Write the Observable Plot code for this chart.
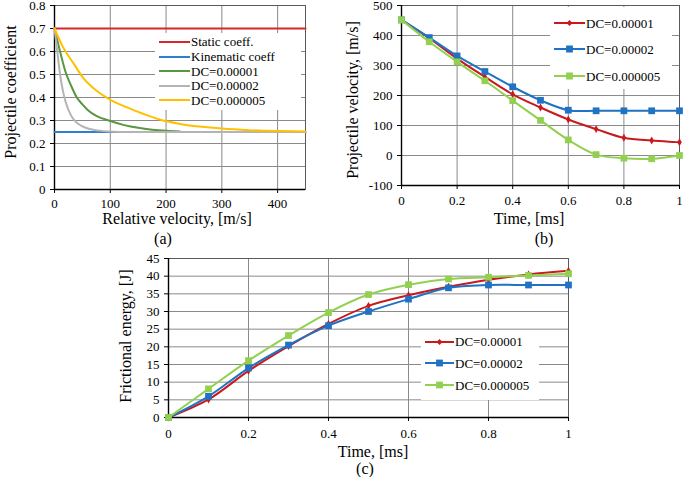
<!DOCTYPE html>
<html><head><meta charset="utf-8">
<script src="https://cdn.jsdelivr.net/npm/d3@7"></script>
<script src="https://cdn.jsdelivr.net/npm/@observablehq/plot@0.6"></script>
<style>
body{margin:0;background:#fff;}
#fig{position:relative;width:685px;height:477px;font-family:'Liberation Serif','DejaVu Serif',Tinos,'Times New Roman',serif;color:#000;overflow:hidden;background:#fff}
#fig svg text{font-family:'Liberation Serif','DejaVu Serif',Tinos,'Times New Roman',serif}
.p{position:absolute}
.t{position:absolute;font-size:16px;white-space:nowrap;transform:translate(-50%,-50%);line-height:1}
.ty{position:absolute;font-size:16px;white-space:nowrap;transform:translate(-50%,-50%) rotate(-90deg);line-height:1}
.leg{position:absolute;background:#fff}
.li{position:absolute;white-space:nowrap;display:flex;align-items:center;font-size:13px;height:16px;line-height:1}
.li svg{display:block}
</style>
</head><body>
<div id="fig"></div>
<script>
// ---------- Data: panel (a) ----------
const velRange = [0, 450];
const staticCoeff = 0.7;
const kinematicCoeff = 0.25;
const velDC1a = [0, 10, 20, 30, 40, 50, 60, 75, 100, 125, 150, 175, 200, 225];
const coefDC1a = [0.70, 0.60, 0.51, 0.45, 0.40, 0.37, 0.345, 0.32, 0.298, 0.28, 0.268, 0.26, 0.255, 0.252];
const velDC2a = [0, 5, 10, 15, 20, 30, 40, 50, 60, 80, 100, 120, 450];
const coefDC2a = [0.70, 0.60, 0.50, 0.43, 0.38, 0.32, 0.29, 0.275, 0.265, 0.256, 0.252, 0.25, 0.25];
const velDC05a = [0, 15, 35, 50, 75, 100, 130, 160, 190, 225, 300, 350, 400, 450];
const coefDC05a = [0.70, 0.62, 0.545, 0.49, 0.43, 0.39, 0.357, 0.328, 0.303, 0.285, 0.265, 0.258, 0.254, 0.252];
const ticksA_x = [0, 100, 200, 300, 400];
const ticksA_y = [0, 0.1, 0.2, 0.3, 0.4, 0.5, 0.6, 0.7, 0.8];

// ---------- Data: panels (b) and (c) ----------
const timeMs = [0, 0.1, 0.2, 0.3, 0.4, 0.5, 0.6, 0.7, 0.8, 0.9, 1];
const velDC1 = [452, 391, 323, 262, 204, 160, 120, 88, 59, 50, 44];
const velDC2 = [452, 393, 332, 280, 229, 184, 151, 149, 149, 149, 149];
const velDC05 = [452, 379, 312, 249, 183, 117, 52, 3, -9, -11, 0];
const enDC1 = [0, 5.1, 13.2, 20.2, 26.5, 31.6, 34.6, 37, 39, 40.5, 41.5];
const enDC2 = [0, 6, 14, 20.5, 26, 30, 33.5, 36.7, 37.5, 37.5, 37.5];
const enDC05 = [0, 8.1, 16.1, 23.2, 29.7, 34.8, 37.6, 39.2, 39.7, 40.2, 40.7];
const ticksT = [0, 0.2, 0.4, 0.6, 0.8, 1];
const ticksB_y = [-100, 0, 100, 200, 300, 400, 500];
const ticksC_y = [0, 5, 10, 15, 20, 25, 30, 35, 40, 45];

const seriesNames = ["DC=0.00001", "DC=0.00002", "DC=0.000005"];
const colA = {stat: "#d9262b", kin: "#2f7fd0", dc1: "#5b9640", dc2: "#b4b4b4", dc05: "#ffc000"};
const colB = ["#c8191e", "#1f72c4", "#92d050"];
const symB = ["diamond", "square", "square"];

const FONT = "'Liberation Serif','DejaVu Serif',Tinos,'Times New Roman',serif";
const fig = document.getElementById("fig");
const zip = (xs, ys) => xs.map((x, i) => ({x, y: ys[i]}));

function panel(o) {
  const plot = Plot.plot({
    width: o.width, height: o.height,
    marginLeft: o.ml, marginRight: o.mr, marginTop: o.mt, marginBottom: o.mb,
    style: {fontFamily: FONT, fontSize: "13px", background: "transparent", color: "#000", overflow: "visible"},
    x: {domain: o.xDomain},
    y: {domain: o.yDomain},
    marks: [
      Plot.gridX(o.xTicks, {stroke: "#8a8a8a", strokeOpacity: 1}),
      Plot.gridY(o.yTicks, {stroke: "#8a8a8a", strokeOpacity: 1}),
      Plot.frame({stroke: "#5a5a5a"}),
      Plot.axisX(o.xTicks, {tickSize: 4, tickPadding: o.xPad, tickFormat: o.xFmt, label: null, stroke: "#000"}),
      Plot.axisY(o.yTicks, {tickSize: 4, tickPadding: 5, tickFormat: o.yFmt, label: null, stroke: "#000"}),
      Plot.ruleX([o.xDomain[0]], {stroke: "#000", strokeWidth: 1.4}),
      Plot.ruleY([o.yDomain[0]], {stroke: "#000", strokeWidth: 1.4}),
      ...o.marks
    ]
  });
  plot.classList.add("p");
  plot.style.left = o.left + "px";
  plot.style.top = o.top + "px";
  fig.appendChild(plot);
}

// ---------- Panel (a) ----------
const fmtA = d => d === 0 ? "0" : d.toFixed(1);
panel({
  left: 0, top: 0, width: 320, height: 215, ml: 54, mr: 15, mt: 5, mb: 26,
  xDomain: velRange, yDomain: [0, 0.8], xTicks: ticksA_x, yTicks: ticksA_y,
  xFmt: d => String(d), yFmt: fmtA, xPad: 5,
  marks: [
    Plot.line(zip(velRange, [staticCoeff, staticCoeff]), {x: "x", y: "y", stroke: colA.stat, strokeWidth: 2}),
    Plot.line(zip(velRange, [kinematicCoeff, kinematicCoeff]), {x: "x", y: "y", stroke: colA.kin, strokeWidth: 2}),
    Plot.line(zip(velDC1a, coefDC1a), {x: "x", y: "y", stroke: colA.dc1, strokeWidth: 2, curve: "monotone-x"}),
    Plot.line(zip(velDC2a, coefDC2a), {x: "x", y: "y", stroke: colA.dc2, strokeWidth: 2, curve: "monotone-x"}),
    Plot.line(zip(velDC05a, coefDC05a), {x: "x", y: "y", stroke: colA.dc05, strokeWidth: 2, curve: "monotone-x"})
  ]
});

// ---------- Panel (b) ----------
const seriesB = [velDC1, velDC2, velDC05];
panel({
  left: 345, top: 0, width: 340, height: 215, ml: 56, mr: 6, mt: 5, mb: 30,
  xDomain: [0, 1], yDomain: [-100, 500], xTicks: ticksT, yTicks: ticksB_y,
  xFmt: d => String(d), yFmt: d => String(d), xPad: 6,
  marks: seriesB.flatMap((s, i) => [
    Plot.line(zip(timeMs, s), {x: "x", y: "y", stroke: colB[i], strokeWidth: 2, curve: "catmull-rom"}),
    Plot.dot(zip(timeMs, s), {x: "x", y: "y", fill: colB[i], symbol: symB[i], r: i === 0 ? 2.4 : 3.8})
  ])
});

// ---------- Panel (c) ----------
const seriesC = [enDC1, enDC2, enDC05];
panel({
  left: 100, top: 245, width: 480, height: 205, ml: 68, mr: 12, mt: 13, mb: 33,
  xDomain: [0, 1], yDomain: [0, 45], xTicks: ticksT, yTicks: ticksC_y,
  xFmt: d => String(d), yFmt: d => String(d), xPad: 7,
  marks: seriesC.flatMap((s, i) => [
    Plot.line(zip(timeMs, s), {x: "x", y: "y", stroke: colB[i], strokeWidth: 2, curve: "catmull-rom"}),
    Plot.dot(zip(timeMs, s), {x: "x", y: "y", fill: colB[i], symbol: symB[i], r: i === 0 ? 2.4 : 3.8})
  ])
});

// ---------- Text ----------
function text(cls, str, x, y) {
  const d = document.createElement("div");
  d.className = cls; d.textContent = str;
  d.style.left = x + "px"; d.style.top = y + "px";
  fig.appendChild(d);
}
text("ty", "Projectile coefficient", 11, 92);
text("t", "Relative velocity, [m/s]", 177, 219);
text("t", "(a)", 163, 239);
text("ty", "Projectile velocity, [m/s]", 353, 100);
text("t", "Time, [ms]", 529, 219);
text("t", "(b)", 544, 239);
text("ty", "Frictional energy, [J]", 126, 336);
text("t", "Time, [ms]", 373, 452);
text("t", "(c)", 365, 469);

// ---------- Legends ----------
function legendBox(x, y, w, h) {
  const d = document.createElement("div");
  d.className = "leg";
  Object.assign(d.style, {left: x + "px", top: y + "px", width: w + "px", height: h + "px"});
  fig.appendChild(d);
}
function legendRow(x, yc, sw, color, label, sym) {
  const row = document.createElement("div");
  row.className = "li";
  row.style.left = x + "px"; row.style.top = (yc - 8) + "px";
  const ns = "http://www.w3.org/2000/svg";
  const svg = document.createElementNS(ns, "svg");
  svg.setAttribute("width", sw + 1); svg.setAttribute("height", 16);
  const ln = document.createElementNS(ns, "line");
  ln.setAttribute("x1", 0); ln.setAttribute("x2", sw); ln.setAttribute("y1", 8); ln.setAttribute("y2", 8);
  ln.setAttribute("stroke", color); ln.setAttribute("stroke-width", 2);
  svg.appendChild(ln);
  if (sym) {
    const m = document.createElementNS(ns, "path");
    const c = sw / 2;
    m.setAttribute("d", sym === "square"
      ? `M${c - 3.4},4.6h6.8v6.8h-6.8z`
      : `M${c},5l3,3l-3,3l-3,-3z`);
    m.setAttribute("fill", color);
    svg.appendChild(m);
  }
  row.appendChild(svg);
  const s = document.createElement("span");
  s.textContent = label;
  row.appendChild(s);
  fig.appendChild(row);
}
legendBox(155, 33, 146, 77);
const legA = [["Static coeff.", colA.stat], ["Kinematic coeff", colA.kin], [seriesNames[0], colA.dc1], [seriesNames[1], colA.dc2], [seriesNames[2], colA.dc05]];
const rowsA = [41.7, 56.7, 71, 85.7, 100];
legA.forEach(([l, c], i) => legendRow(159, rowsA[i], 31, c, l, null));

legendBox(550, 7, 122, 82);
const rowsB = [23, 49, 76];
seriesNames.forEach((l, i) => legendRow(554, rowsB[i], 31, colB[i], l, symB[i]));

legendBox(421, 330, 118, 70);
const rowsC = [341.7, 363.3, 385];
seriesNames.forEach((l, i) => legendRow(425, rowsC[i], 29, colB[i], l, symB[i]));
</script>
</body></html>
